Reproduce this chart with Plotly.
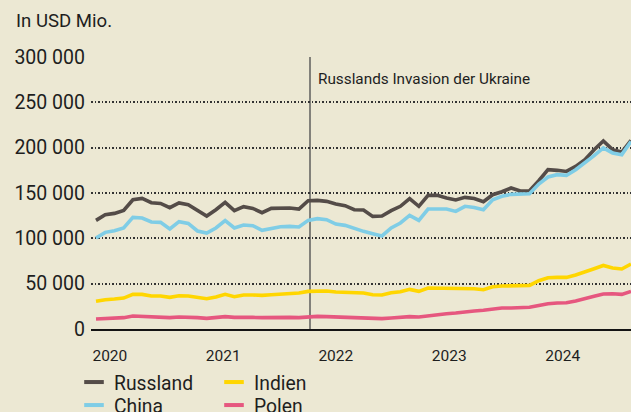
import plotly.graph_objects as go

# Values in USD Mio. (one point per period)
RUSSLAND = [119.8, 126, 127.5, 130.8, 142.6, 144, 139.3, 138.5, 133.8, 139, 137, 130.8,
            124.6, 131.6, 139.7, 130.5, 134.9, 133, 128.3, 133, 133, 133.4, 132.3, 141.5,
            141.9, 140.8, 137.9, 136, 131.6, 131.2, 124.2, 124.6, 130.5, 135.3, 143.7, 135.3,
            147.4, 147.4, 144.5, 142.3, 145.2, 144, 140.4, 148.1, 151.4, 155.5, 152.2, 152.5,
            163.5, 175.7, 175, 173.8, 179.3, 186.7, 197.8, 207.4, 197.8, 195.2, 208]
CHINA = [100.4, 106.6, 108.4, 111.4, 123.1, 122.4, 118, 117.6, 110.3, 118.4, 116.5, 108.1,
         105.9, 111.4, 119.5, 111.4, 114.7, 113.9, 108.8, 110.6, 112.8, 113.2, 112.5, 119.8,
         121.7, 120.6, 115.8, 114.3, 110.6, 107.7, 105.1, 102.6, 111.4, 116.9, 125.3, 119.8,
         132.3, 132.3, 132.3, 129.7, 135.3, 134.1, 131.6, 142.6, 146.3, 148.5, 148.5, 149.2,
         159.9, 167.7, 170.2, 169.4, 175.7, 183.1, 191.2, 199.7, 194.2, 192.3, 206.9]
INDIEN = [30.5, 32.3, 33, 34.1, 38.2, 38.2, 36.4, 36.4, 34.9, 36.7, 36.4, 34.9,
          33.4, 35.3, 38.2, 35.6, 37.5, 37.5, 37.1, 37.8, 38.6, 38.9, 39.7, 41.5,
          42.2, 41.9, 40.8, 40.4, 40, 39.7, 37.8, 37.5, 40, 41.1, 43.7, 41.5,
          45.2, 45.2, 44.4, 44.4, 45.2, 44.4, 43.3, 46.6, 47.4, 47.8, 47.8, 48.1,
          53.3, 56.6, 56.9, 56.9, 59.6, 63.5, 66.5, 70.1, 67.3, 66.2, 71.7]
POLEN = [11, 11.7, 12.1, 12.5, 14.3, 13.9, 13.2, 13.2, 12.5, 13.2, 13.2, 12.5,
         11.7, 12.5, 13.6, 12.8, 13.2, 12.8, 12.5, 12.8, 12.8, 12.8, 12.5, 13.6,
         13.9, 13.6, 13.2, 12.8, 12.5, 11.7, 11.4, 11.4, 12.1, 12.8, 13.6, 13.2,
         14.7, 15.8, 16.9, 17.6, 19.1, 19.8, 20.6, 22.4, 23.2, 23.2, 23.2, 23.9,
         26, 27.9, 28.7, 29, 30.9, 33.1, 36, 38.6, 38.9, 38.2, 41.5]

YEAR_LABELS = ["2020", "2021", "2022", "2023", "2024"]
YEAR_POS = [1.5, 13.8, 26.0, 38.3, 50.6]
Y_TICKS = [0, 50000, 100000, 150000, 200000, 250000, 300000]
INVASION_POS = 23.2
INVASION_TEXT = "Russlands Invasion der Ukraine"
UNIT_TEXT = "In USD Mio."

BG = "#ece8d3"
FONT = "Roboto"
TXT = "#1e1e1e"
COLORS = {"Russland": "#544c48", "China": "#7fcde6", "Indien": "#ffd600", "Polen": "#e6577f"}

series = {"Russland": RUSSLAND, "China": CHINA, "Indien": INDIEN, "Polen": POLEN}
x = list(range(len(RUSSLAND)))

W, H = 631, 412
ML, MR, MT, MB = 91, 0, 57, 83
pw, ph = W - ML - MR, H - MT - MB

fig = go.Figure()
for name in ["Polen", "Indien", "Russland", "China"]:
    fig.add_trace(go.Scatter(
        x=x, y=[v * 1000 for v in series[name]], mode="lines", name=name,
        line=dict(color=COLORS[name], width=3.6), showlegend=False, hoverinfo="skip"))

# legend entries (short thick line symbols): 2 columns x 2 rows, one legend box each
LEGEND_SLOTS = [("Russland", "legend", 74, 363), ("China", "legend2", 74, 386),
                ("Indien", "legend3", 214, 363), ("Polen", "legend4", 214, 386)]
for name, lg, _, _ in LEGEND_SLOTS:
    fig.add_trace(go.Scatter(
        x=[None], y=[None], mode="markers", name=name, legend=lg,
        marker=dict(symbol="line-ew", size=14, color=COLORS[name],
                    line=dict(width=4, color=COLORS[name]))))

fig.add_shape(type="line", xref="x", yref="y", x0=INVASION_POS, x1=INVASION_POS,
              y0=0, y1=300000, line=dict(color="#4a4a4a", width=1.3), layer="below")
fig.add_annotation(x=INVASION_POS, y=276000, xref="x", yref="y", text=INVASION_TEXT,
                   showarrow=False, xanchor="left", yanchor="middle", xshift=6,
                   font=dict(family=FONT, size=15.3, color=TXT))
fig.add_annotation(x=(14 - ML) / pw, y=(H - MB - 21) / ph, xref="paper", yref="paper",
                   text=UNIT_TEXT, showarrow=False, xanchor="left", yanchor="middle",
                   font=dict(family=FONT, size=18.6, color=TXT))

leg_common = dict(xref="container", yref="container", xanchor="left", yanchor="top",
                  orientation="v", font=dict(family=FONT, size=19.3, color=TXT),
                  bgcolor="rgba(0,0,0,0)", tracegroupgap=0, itemwidth=30, borderwidth=0)
legends = {lg: dict(x=lx / W, y=1 - ly / H, **leg_common) for _, lg, lx, ly in LEGEND_SLOTS}

fig.update_layout(
    width=W, height=H,
    margin=dict(l=ML, r=MR, t=MT, b=MB, pad=0, autoexpand=False),
    paper_bgcolor=BG, plot_bgcolor=BG,
    separators=", ",
    font=dict(family=FONT, color=TXT),
    xaxis=dict(range=[-0.542, len(RUSSLAND) - 1], tickvals=YEAR_POS, ticktext=YEAR_LABELS,
               showgrid=False, zeroline=False, showline=True, linecolor="#141414", linewidth=2.2,
               ticks="outside", ticklen=11, tickcolor="rgba(0,0,0,0)",
               tickfont=dict(family=FONT, size=15.5, color=TXT)),
    yaxis=dict(range=[0, 300000], tickvals=Y_TICKS, tickformat=",d",
               showgrid=True, gridcolor="#333333", gridwidth=1.5, griddash="1.5px,2px",
               zeroline=False, showline=False, ticks="", ticklabelstandoff=5,
               tickfont=dict(family=FONT, size=19.5, color=TXT)),
    showlegend=True,
    **legends,
)

fig.write_html(
    "out.html",
    config={"displayModeBar": False},
    post_script=("document.body.style.margin='0px';document.body.style.padding='0px';"
                 "document.body.style.background='%s';" % BG),
)
